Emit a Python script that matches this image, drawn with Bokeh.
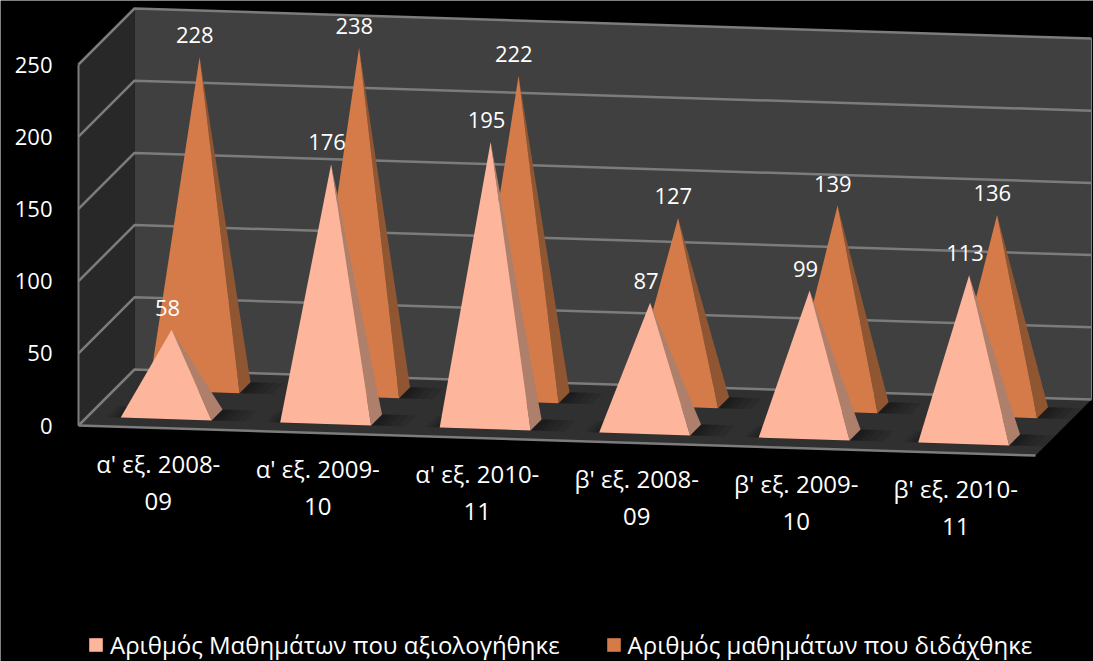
from bokeh.plotting import figure
from bokeh.models import (Range1d, LinearAxis, FixedTicker, Legend, LegendItem)
from bokeh.core.properties import value
from bokeh.embed import file_html
from bokeh.resources import INLINE

# ---- data -----------------------------------------------------------------
categories = ["α' εξ. 2008-\n09", "α' εξ. 2009-\n10", "α' εξ. 2010-\n11",
              "β' εξ. 2008-\n09", "β' εξ. 2009-\n10", "β' εξ. 2010-\n11"]
evaluated = [58, 176, 195, 87, 99, 113]
taught = [228, 238, 222, 127, 139, 136]
series_names = ["Αριθμός Μαθημάτων που αξιολογήθηκε", "Αριθμός μαθημάτων που διδάχθηκε"]
y_ticks = [0, 50, 100, 150, 200, 250]

# ---- page / projection ----------------------------------------------------
W, H = 1093, 661
PX_PER_CAT = 159.5
PX_PER_VAL = 1.444
LEFT, BASE = 78, 425
DEPTH_PX = 56
DRIFT_PX = 5
FONT = "Open Sans"


def proj(u, d, v):
    """category position u, depth d (0 front .. 1 back), value v -> data coords"""
    return (u + d * DEPTH_PX / PX_PER_CAT,
            v - (u * DRIFT_PX - d * DEPTH_PX) / PX_PER_VAL)


def poly(*pts):
    xs, ys = zip(*[proj(*q) for q in pts])
    return list(xs), list(ys)


p = figure(width=W, height=H, output_backend="svg", toolbar_location=None,
           x_range=Range1d(-LEFT / PX_PER_CAT, (W - LEFT) / PX_PER_CAT),
           y_range=Range1d((BASE - H) / PX_PER_VAL, BASE / PX_PER_VAL),
           x_axis_location=None, y_axis_location=None,
           min_border=0, margin=0,
           background_fill_color="#000000", border_fill_color="#000000",
           outline_line_color=None)
p.grid.visible = False

NCAT = len(categories)
TOP = y_ticks[-1]

# walls and floor
x, y = poly((0, 1, 0), (NCAT, 1, 0), (NCAT, 1, TOP), (0, 1, TOP))
p.patch(x, y, fill_color="#404040", line_color=None)
x, y = poly((0, 0, 0), (0, 1, 0), (0, 1, TOP), (0, 0, TOP))
p.patch(x, y, fill_color="#282828", line_color=None)
x, y = poly((0, 0, 0), (NCAT, 0, 0), (NCAT, 1, 0), (0, 1, 0))
p.patch(x, y, fill_color="#303030", line_color=None)

# gridlines
GRID = "#7C7C7C"
for t in y_ticks:
    x, y = poly((0, 0, t), (0, 1, t), (NCAT, 1, t))
    p.line(x, y, line_color=GRID, line_width=2.5)
x, y = poly((0, 0, 0), (NCAT, 0, 0))
p.line(x, y, line_color=GRID, line_width=2.5)
x, y = poly((0, 0, 0), (0, 0, TOP))
p.line(x, y, line_color=GRID, line_width=2)
x, y = poly((NCAT, 1, 0), (NCAT, 1, TOP))
p.line(x, y, line_color=GRID, line_width=1)

# pyramids
CENTER_U = 0.505
HALF_W = 0.285
HALF_D = 0.098
series_style = [
    (evaluated, 0.2585, "#FDB59B", "#AE806C"),
    (taught, 0.745, "#D57B4A", "#8F5631"),
]
legend_renderers = [None, None]

for idx in (1, 0):
    vals, depth, front, side = series_style[idx]
    for k, val in enumerate(vals):
        u = k + CENTER_U
        # soft shadow on the floor
        for grow in (0.20, 0.15, 0.10, 0.06, 0.03):
            sx, sy = poly((u - HALF_W - grow * 0.5, depth - HALF_D, 0),
                          (u + HALF_W + grow, depth - HALF_D, 0),
                          (u + HALF_W + grow, depth + HALF_D, 0),
                          (u - HALF_W - grow * 0.5, depth + HALF_D, 0))
            p.patch(sx, sy, fill_color="#000000", fill_alpha=0.09, line_color=None)
    for k, val in enumerate(vals):
        u = k + CENTER_U - (depth - 0.2245 if idx == 0 else depth - 0.724) * DEPTH_PX / PX_PER_CAT
        fl = (u - HALF_W, depth - HALF_D, 0)
        fr = (u + HALF_W, depth - HALF_D, 0)
        br = (u + HALF_W, depth + HALF_D, 0)
        apex = (u, depth, val)
        x, y = poly(fr, br, apex)
        p.patch(x, y, fill_color=side, line_color=None)
        x, y = poly(fl, fr, apex)
        r = p.patch(x, y, fill_color=front, line_color=None)
        if legend_renderers[idx] is None:
            legend_renderers[idx] = r

# data labels
for idx in (1, 0):
    vals, depth, _, _ = series_style[idx]
    pts = [proj(k + CENTER_U, depth, val) for k, val in enumerate(vals)]
    p.text([q[0] for q in pts], [q[1] for q in pts], text=[str(v) for v in vals],
           text_color="#FFFFFF", text_font=value(FONT), text_font_size="22px",
           text_align="center", text_baseline="middle", x_offset=-6, y_offset=-22)

# category labels
pts = [proj(k + 0.5, 0, 0) for k in range(NCAT)]
p.text([q[0] for q in pts], [q[1] for q in pts], text=categories,
       text_color="#FFFFFF", text_font=value(FONT), text_font_size="24px",
       text_align="center", text_baseline="top", y_offset=19, text_line_height=1.13)

# value axis
axis = LinearAxis(fixed_location=-20 / PX_PER_CAT, ticker=FixedTicker(ticks=y_ticks),
                  axis_line_color=None, major_tick_line_color=None,
                  minor_tick_line_color=None, major_label_standoff=0,
                  major_label_text_color="#FFFFFF",
                  major_label_text_font=FONT, major_label_text_font_size="22px")
p.add_layout(axis, "left")

# legend
legend = Legend(items=[LegendItem(label=series_names[i], renderers=[legend_renderers[i]])
                       for i in range(2)],
                orientation="horizontal", location=(87, 0), margin=0, padding=0,
                spacing=45, glyph_width=17, glyph_height=17, label_standoff=6,
                background_fill_alpha=0, border_line_color=None,
                label_text_color="#FFFFFF", label_text_font=FONT,
                label_text_font_size="24px", click_policy="none")
p.add_layout(legend, "center")

open("out.html", "w").write(file_html(p, INLINE))
